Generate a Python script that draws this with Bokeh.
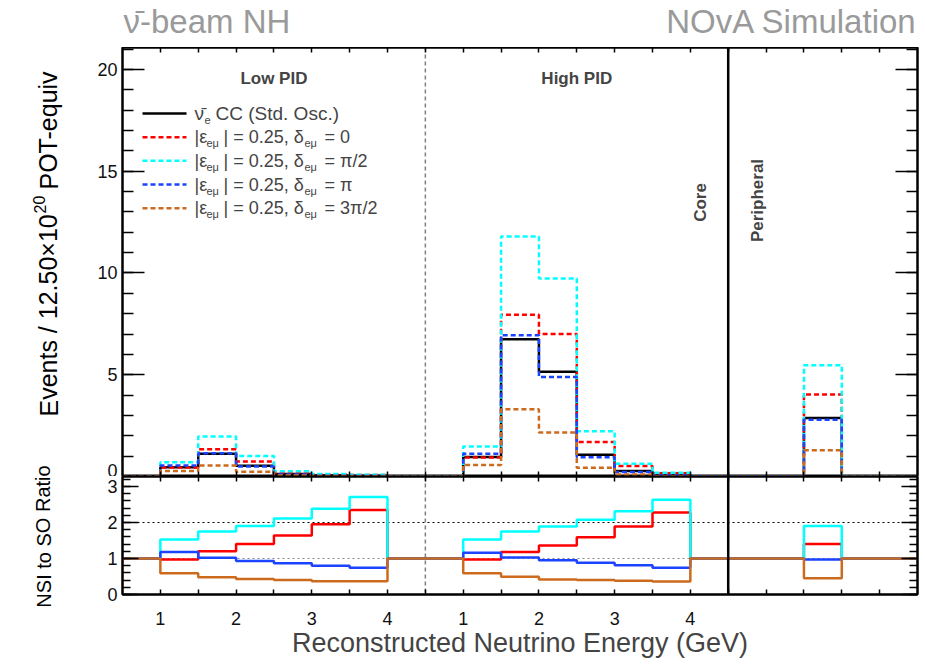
from bokeh.plotting import figure
from bokeh.layouts import column, row
from bokeh.models import (Range1d, LinearAxis, FixedTicker, SingleIntervalTicker, Span, Label,
                          CustomJSTickFormatter)
from bokeh.core.properties import value
from bokeh.embed import file_html
from bokeh.resources import INLINE

FONT = "Liberation Sans"

# Running reconstructed-energy axis: low PID 0.5-4.5, high PID 4.5-8.5, peripheral 8.5-11
bin_edges = [0.5, 1.0, 1.5, 2.0, 2.5, 3.0, 3.5, 4.0, 4.5,
             5.0, 5.5, 6.0, 6.5, 7.0, 7.5, 8.0, 8.5,
             9.0, 9.5, 10.0, 10.5, 11.0]

# Standard-oscillation anti-nue CC prediction per bin
std_osc = [0.0, 0.46, 1.12, 0.53, 0.12, 0.05, 0.03, 0.0,
           0.0, 0.96, 6.74, 5.15, 1.07, 0.27, 0.07, 0.0,
           0.0, 0.0, 2.88, 0.0, 0.0]

# NSI / standard-oscillation ratios per bin for |eps_emu| = 0.25
ratio_d0 = [1.0, 0.97, 1.20, 1.40, 1.64, 1.95, 2.35, 1.0,
            1.0, 0.97, 1.18, 1.36, 1.59, 1.89, 2.28, 1.0,
            1.0, 1.0, 1.40, 1.0, 1.0]
ratio_dpi2 = [1.0, 1.53, 1.75, 1.90, 2.11, 2.38, 2.71, 1.0,
              1.0, 1.53, 1.75, 1.89, 2.08, 2.31, 2.63, 1.0,
              1.0, 1.0, 1.90, 1.0, 1.0]
ratio_dpi = [1.0, 1.18, 1.02, 0.93, 0.87, 0.80, 0.74, 1.0,
             1.0, 1.16, 1.03, 0.95, 0.88, 0.81, 0.74, 1.0,
             1.0, 1.0, 0.97, 1.0, 1.0]
ratio_d3pi2 = [1.0, 0.59, 0.48, 0.43, 0.40, 0.37, 0.37, 1.0,
               1.0, 0.59, 0.49, 0.42, 0.40, 0.38, 0.36, 1.0,
               1.0, 1.0, 0.45, 1.0, 1.0]

# Energy tick labels, restarting in each PID region
energy_tick_pos = [1.0, 2.0, 3.0, 4.0, 5.0, 6.0, 7.0, 8.0]
energy_tick_labels = ["1", "2", "3", "4", "1", "2", "3", "4"]

delta_labels = ["= 0", "= π/2", "= π", "= 3π/2"]
series_colors = ["#ff0000", "#00ffff", "#1a44ff", "#cc6a1e"]
ratios = [ratio_d0, ratio_dpi2, ratio_dpi, ratio_d3pi2]

# ---------------------------------------------------------------- geometry
HEADER_H = 47
TITLE_W = 70
FRAME_L, FRAME_W, FRAME_R = 122, 795, 8
TOP_H, RAT_H, BOTTOM_H = 429, 118, 74
X0, X1 = 0.5, 11.0
Y_TOP_MAX = 21.08
Y_RAT_MAX = 3.278


def sx(px):
    return X0 + (px - FRAME_L) * (X1 - X0) / FRAME_W


def sy_top(py):
    return (HEADER_H + TOP_H - py) * Y_TOP_MAX / TOP_H


x_range = Range1d(X0, X1)
x_ticks = bin_edges[1:-1]
x_overrides = {t: "" for t in x_ticks}
for pos, lab in zip(energy_tick_pos, energy_tick_labels):
    x_overrides[pos] = lab

blank = CustomJSTickFormatter(code="return ''")


def style_axis(ax, major_in, minor_in, labels):
    ax.major_tick_in = major_in
    ax.major_tick_out = 0
    ax.minor_tick_in = minor_in
    ax.minor_tick_out = 0
    ax.axis_line_color = "black"
    ax.axis_line_width = 2
    ax.major_tick_line_color = "black"
    ax.minor_tick_line_color = "black"
    ax.major_tick_line_width = 1.5
    ax.minor_tick_line_width = 1.5
    if labels:
        ax.major_label_text_font = FONT
        ax.major_label_text_font_size = "18px"
        ax.major_label_text_color = "#111111"
    else:
        ax.formatter = blank
        ax.major_label_text_font_size = "1px"
        ax.major_label_standoff = 0


def x_axis(ax, labels):
    ax.ticker = FixedTicker(ticks=x_ticks, minor_ticks=[])
    if labels:
        ax.major_label_overrides = x_overrides
    style_axis(ax, 5, 0, labels)


def base_fig(frame_h, y_max, bottom):
    p = figure(frame_width=FRAME_W, frame_height=frame_h, x_range=x_range,
               y_range=Range1d(0, y_max), output_backend="svg",
               toolbar_location=None, min_border_left=FRAME_L - TITLE_W,
               min_border_right=FRAME_R, min_border_top=0, min_border_bottom=bottom)
    p.grid.visible = False
    p.outline_line_color = "black"
    p.outline_line_width = 2
    p.background_fill_color = "white"
    p.border_fill_color = "white"
    return p


def text_strip(x_start, x_end, h, left=0, right=0):
    # plain canvas whose data coordinates are pixels measured from the page's left
    # edge (x) and from the strip's top edge (y)
    s = figure(frame_width=x_end - x_start, frame_height=h,
               x_range=Range1d(x_start, x_end), y_range=Range1d(h, 0),
               output_backend="svg", toolbar_location=None,
               min_border_left=left, min_border_right=right,
               min_border_top=0, min_border_bottom=0,
               x_axis_type=None, y_axis_type=None)
    s.grid.visible = False
    s.outline_line_color = None
    s.background_fill_color = "white"
    s.border_fill_color = "white"
    return s


def step_xy(vals):
    return bin_edges, list(vals) + [vals[-1]]


# ---------------------------------------------------------------- header
header = text_strip(FRAME_L, FRAME_L + FRAME_W, HEADER_H, left=FRAME_L, right=FRAME_R)
header.text(x=[FRAME_L + 1], y=[21], text=["ν̄-beam NH"], text_font=value(FONT),
            text_font_size=value("33px"), text_color="#9a9a9a",
            text_align="left", text_baseline="middle")
header.text(x=[FRAME_L + FRAME_W], y=[21], text=["NOvA Simulation"], text_font=value(FONT),
            text_font_size=value("33px"), text_color="#9a9a9a",
            text_align="right", text_baseline="middle")

# ---------------------------------------------------------------- axis titles (left strip)
ltitle = text_strip(0, TITLE_W, TOP_H + RAT_H + BOTTOM_H)
for txt, y0, xc, size in [("Events / 12.50×10", 369, 48, "25px"),
                          ("20", 166, 39, "16px"),
                          ("POT-equiv", 142, 48, "25px")]:
    ltitle.text(x=[xc], y=[y0], text=[txt], angle=1.5708, text_font=value(FONT),
                text_font_size=value(size), text_align="left", text_baseline="middle")
ltitle.text(x=[43], y=[489], text=["NSI to SO Ratio"], angle=1.5708, text_font=value(FONT),
            text_font_size=value("20px"), text_align="center", text_baseline="middle")

# ---------------------------------------------------------------- spectra panel
p1 = base_fig(TOP_H, Y_TOP_MAX, 0)
x_axis(p1.xaxis[0], False)
p1.yaxis[0].ticker = SingleIntervalTicker(interval=5, num_minor_ticks=5)
style_axis(p1.yaxis[0], 22, 11, True)
p1.yaxis[0].major_label_standoff = 5
top_ax = LinearAxis()
x_axis(top_ax, False)
p1.add_layout(top_ax, "above")
right_ax = LinearAxis(ticker=SingleIntervalTicker(interval=5, num_minor_ticks=5))
style_axis(right_ax, 22, 11, False)
p1.add_layout(right_ax, "right")

p1.add_layout(Span(location=4.5, dimension="height", line_color="#808080",
                   line_width=1.5, line_dash="4 3", level="underlay"))

xs, ys = step_xy(std_osc)
p1.step(xs, ys, mode="after", line_color="black", line_width=2.5)
for ratio, color in zip(ratios, series_colors):
    nsi = [s * r for s, r in zip(std_osc, ratio)]
    xs, ys = step_xy(nsi)
    p1.step(xs, ys, mode="after", line_color=color, line_width=2.5, line_dash="5 3")

p1.add_layout(Span(location=8.5, dimension="height", line_color="black", line_width=2.5))

# region captions
for txt, xc in [("Low PID", 2.5), ("High PID", 6.5)]:
    p1.add_layout(Label(x=xc, y=sy_top(78), text=txt, text_font=FONT, text_font_size="17px",
                        text_font_style="bold", text_align="center", text_baseline="middle"))
p1.add_layout(Label(x=sx(700), y=sy_top(202), text="Core", angle=1.5708, text_font=FONT,
                    text_font_size="17px", text_font_style="bold",
                    text_align="center", text_baseline="middle"))
p1.add_layout(Label(x=sx(757), y=sy_top(200), text="Peripheral", angle=1.5708, text_font=FONT,
                    text_font_size="17px", text_font_style="bold",
                    text_align="center", text_baseline="middle"))

# legend
row_y = [113, 136.7, 160.3, 184, 207.7]
p1.line([sx(142), sx(186)], [sy_top(row_y[0])] * 2, line_color="black", line_width=2.5)
p1.add_layout(Label(x=sx(194), y=sy_top(row_y[0]), text="ν̄", text_font=FONT,
                    text_font_size="19px", text_baseline="middle"))
p1.add_layout(Label(x=sx(204), y=sy_top(row_y[0] + 6), text="e", text_font=FONT,
                    text_font_size="11px", text_baseline="middle"))
p1.add_layout(Label(x=sx(215), y=sy_top(row_y[0]), text="CC (Std. Osc.)", text_font=FONT,
                    text_font_size="19px", text_baseline="middle"))
for ry, color, dl in zip(row_y[1:], series_colors, delta_labels):
    p1.line([sx(142), sx(186)], [sy_top(ry)] * 2, line_color=color, line_width=2.5,
            line_dash="5 3")
    for txt, px, dy, size in [("|ε", 194, 0, "18px"), ("eμ", 206, 6, "11px"),
                              ("| = 0.25, δ", 223, 0, "18px"), ("eμ", 304, 6, "11px"),
                              (dl, 324, 0, "18px")]:
        p1.add_layout(Label(x=sx(px), y=sy_top(ry + dy), text=txt, text_font=FONT,
                            text_font_size=size, text_baseline="middle"))

# ---------------------------------------------------------------- ratio panel
p2 = base_fig(RAT_H, Y_RAT_MAX, BOTTOM_H)
x_axis(p2.xaxis[0], True)
p2.xaxis[0].major_label_standoff = 17
p2.xaxis[0].axis_label = "Reconstructed Neutrino Energy (GeV)"
p2.xaxis[0].axis_label_text_font = FONT
p2.xaxis[0].axis_label_text_font_size = "27px"
p2.xaxis[0].axis_label_text_font_style = "normal"
p2.xaxis[0].axis_label_standoff = 0
top_ax2 = LinearAxis()
x_axis(top_ax2, False)
p2.add_layout(top_ax2, "above")
p2.yaxis[0].ticker = SingleIntervalTicker(interval=1, num_minor_ticks=5)
style_axis(p2.yaxis[0], 16, 8, True)
p2.yaxis[0].major_label_standoff = 5
right_ax2 = LinearAxis(ticker=SingleIntervalTicker(interval=1, num_minor_ticks=5))
style_axis(right_ax2, 16, 8, False)
p2.add_layout(right_ax2, "right")

p2.add_layout(Span(location=2, dimension="width", line_color="black", line_width=1.2,
                   line_dash="2 3", level="underlay"))
p2.add_layout(Span(location=1, dimension="width", line_color="#888888", line_width=1.2,
                   line_dash="2 3", level="underlay"))
p2.add_layout(Span(location=4.5, dimension="height", line_color="#808080",
                   line_width=1.5, line_dash="4 3", level="underlay"))

for ratio, color in zip(ratios, series_colors):
    xs, ys = step_xy(ratio)
    # rise from zero at the lower edge of the axis
    p2.step([bin_edges[0]] + xs, [0.0] + ys, mode="after", line_color=color, line_width=2.5)

p2.add_layout(Span(location=8.5, dimension="height", line_color="black", line_width=2.5))

layout = column(header, row(ltitle, column(p1, p2, spacing=0), spacing=0), spacing=0)
open("out.html", "w").write(file_html(layout, INLINE))
